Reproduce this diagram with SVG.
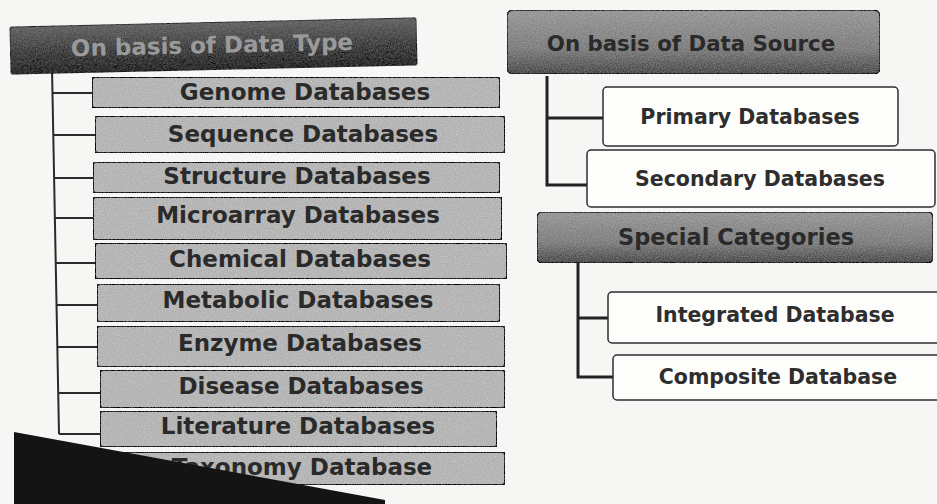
<svg xmlns="http://www.w3.org/2000/svg" width="937" height="504" viewBox="0 0 937 504">
  <defs>
    <filter id="grain" x="0" y="0" width="100%" height="100%">
      <feTurbulence type="fractalNoise" baseFrequency="0.85" numOctaves="2" seed="4" result="n"/>
      <feColorMatrix in="n" type="saturate" values="0" result="g"/>
      <feComposite in="SourceGraphic" in2="g" operator="arithmetic" k1="0" k2="1" k3="0.35" k4="-0.095" result="m"/>
      <feComposite in="m" in2="SourceGraphic" operator="in"/>
    </filter>
    <linearGradient id="gDark" x1="0" y1="0" x2="0" y2="1">
      <stop offset="0" stop-color="#6a6a6a"/>
      <stop offset="0.5" stop-color="#4c4c4c"/>
      <stop offset="1" stop-color="#333"/>
    </linearGradient>
    <linearGradient id="gMid" x1="0" y1="0" x2="0" y2="1">
      <stop offset="0" stop-color="#9c9c9c"/>
      <stop offset="0.6" stop-color="#848484"/>
      <stop offset="1" stop-color="#555"/>
    </linearGradient>
  </defs>
  <style>
    .hdr { stroke: #2a2a2a; stroke-width: 1.5; filter: url(#grain); }
    .gbox { fill: #b8b8b8; stroke: #2e2e2e; stroke-width: 2; filter: url(#grain); }
    .wbox { fill: #fdfdfb; stroke: #2e2e2e; stroke-width: 1.5; }
    .lt { font-family: "DejaVu Sans", "Liberation Sans", sans-serif; font-weight: bold; font-size: 23px; fill: #2a2a2a; text-anchor: middle; }
    .rt { font-family: "DejaVu Sans", "Liberation Sans", sans-serif; font-weight: bold; font-size: 20.5px; fill: #2e2e2e; text-anchor: middle; }
    .ht { font-family: "DejaVu Sans", "Liberation Sans", sans-serif; font-weight: bold; text-anchor: middle; }
    .con { stroke: #2a2a2a; stroke-width: 2; fill: none; }
    .conR { stroke: #222; stroke-width: 3; fill: none; }
  </style>
  <rect x="0" y="0" width="937" height="504" fill="#f6f6f4"/>

  <g id="connectors">
    <line class="con" x1="52" y1="68" x2="59" y2="434"/>
    <line class="con" x1="52" y1="93" x2="92" y2="93"/>
    <line class="con" x1="53" y1="135" x2="95" y2="135"/>
    <line class="con" x1="54" y1="178" x2="93" y2="178"/>
    <line class="con" x1="55" y1="218" x2="93" y2="218"/>
    <line class="con" x1="55" y1="263" x2="95" y2="263"/>
    <line class="con" x1="56" y1="305" x2="97" y2="305"/>
    <line class="con" x1="57" y1="347" x2="97" y2="347"/>
    <line class="con" x1="58" y1="393" x2="100" y2="393"/>
    <line class="con" x1="59" y1="434" x2="100" y2="434"/>
    <polyline class="conR" points="547,76 547,185 587,185"/>
    <line class="conR" x1="547" y1="118" x2="603" y2="118"/>
    <polyline class="conR" points="578,263 578,377 613,377"/>
    <line class="conR" x1="578" y1="318" x2="608" y2="318"/>
  </g>

  <g id="hdr-type" transform="rotate(-1.3 213 46)">
    <rect class="hdr" x="10" y="22" width="407" height="48" rx="4" fill="url(#gDark)"/>
    <text class="ht" x="212" y="53" font-size="23" fill="#9a9a9a">On basis of Data Type</text>
  </g>

  <g id="n-genome">
    <rect class="gbox" x="92" y="77" width="408" height="31" rx="3"/>
    <text class="lt" x="305" y="100">Genome Databases</text>
  </g>
  <g id="n-sequence">
    <rect class="gbox" x="95" y="116" width="410" height="37" rx="3"/>
    <text class="lt" x="303" y="142">Sequence Databases</text>
  </g>
  <g id="n-structure">
    <rect class="gbox" x="93" y="162" width="407" height="31" rx="3"/>
    <text class="lt" x="297" y="184">Structure Databases</text>
  </g>
  <g id="n-microarray">
    <rect class="gbox" x="93" y="197" width="409" height="43" rx="3"/>
    <text class="lt" x="298" y="223">Microarray Databases</text>
  </g>
  <g id="n-chemical">
    <rect class="gbox" x="95" y="243" width="412" height="36" rx="3"/>
    <text class="lt" x="300" y="267">Chemical Databases</text>
  </g>
  <g id="n-metabolic">
    <rect class="gbox" x="97" y="284" width="403" height="38" rx="3"/>
    <text class="lt" x="298" y="308">Metabolic Databases</text>
  </g>
  <g id="n-enzyme">
    <rect class="gbox" x="97" y="326" width="408" height="41" rx="3"/>
    <text class="lt" x="300" y="351">Enzyme Databases</text>
  </g>
  <g id="n-disease">
    <rect class="gbox" x="100" y="370" width="405" height="38" rx="3"/>
    <text class="lt" x="301" y="394">Disease Databases</text>
  </g>
  <g id="n-literature">
    <rect class="gbox" x="100" y="411" width="397" height="36" rx="3"/>
    <text class="lt" x="298" y="434">Literature Databases</text>
  </g>
  <g id="n-taxonomy">
    <rect class="gbox" x="100" y="452" width="405" height="33" rx="3"/>
    <text class="lt" x="302" y="475">Taxonomy Database</text>
  </g>

  <g id="hdr-source">
    <rect class="hdr" x="507" y="10" width="373" height="64" rx="6" fill="url(#gMid)"/>
    <text class="ht" x="691" y="51" font-size="21.3" fill="#2a2a2a">On basis of Data Source</text>
  </g>
  <g id="n-primary">
    <rect class="wbox" x="603" y="87" width="295" height="59" rx="4"/>
    <text class="rt" x="750" y="124">Primary Databases</text>
  </g>
  <g id="n-secondary">
    <rect class="wbox" x="587" y="150" width="348" height="57" rx="4"/>
    <text class="rt" x="760" y="186">Secondary Databases</text>
  </g>

  <g id="hdr-special">
    <rect class="hdr" x="537" y="212" width="396" height="51" rx="5" fill="url(#gMid)"/>
    <text class="ht" x="736" y="245" font-size="22.5" fill="#2a2a2a">Special Categories</text>
  </g>
  <g id="n-integrated">
    <rect class="wbox" x="608" y="292" width="340" height="51" rx="4"/>
    <text class="rt" x="775" y="322">Integrated Database</text>
  </g>
  <g id="n-composite">
    <rect class="wbox" x="613" y="355" width="335" height="45" rx="4"/>
    <text class="rt" x="778" y="384">Composite Database</text>
  </g>

  <polygon points="14,432 385,500 385,504 14,504" fill="#141414"/>
</svg>
